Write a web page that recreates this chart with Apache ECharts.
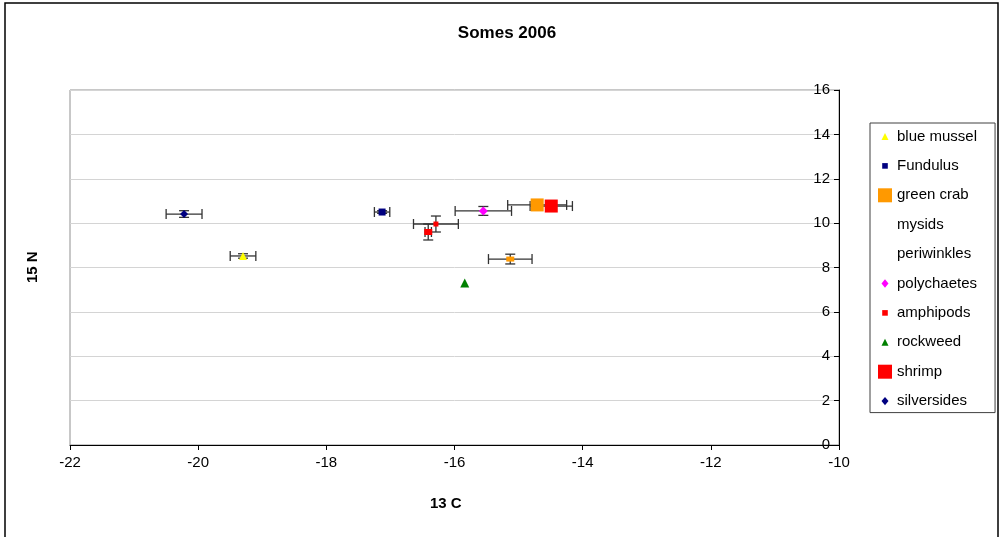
<!DOCTYPE html>
<html><head><meta charset="utf-8">
<script src="https://cdn.jsdelivr.net/npm/echarts@6/dist/echarts.min.js"></script>
<style>html,body{margin:0;padding:0;background:#fff}#c{width:1000px;height:537px}</style>
</head><body><div id="c"></div>
<script>
const names = ['blue mussel','Fundulus','green crab','mysids','periwinkles','polychaetes','amphipods','rockweed','shrimp','silversides'];
const xVals = [-19.30, -17.13, -14.71, -15.13, -16.41, -15.55, -16.29, -15.84, -14.49, -20.22];
const yVals = [8.52, 10.50, 10.82, 8.38, 9.60, 10.55, 9.96, 7.30, 10.77, 10.41];
const xErr  = [0.20, 0.12, 0.46, 0.34, 0.05, 0.44, 0.35, 0, 0.33, 0.28];
const yErr  = [0.10, 0.06, 0.10, 0.22, 0.36, 0.20, 0.36, 0, 0.10, 0.15];
const xTicks = [-22,-20,-18,-16,-14,-12,-10];
const yTicks = [0,2,4,6,8,10,12,14,16];

const colors = ['#FFFF00','#000080','#FF9900','#FF9900','#FF0000','#FF00FF','#FF0000','#008000','#FF0000','#000080'];
const symbols = ['triangle','rect','rect','rect','rect','diamond','rect','triangle','rect','diamond'];
const sizes = [8,7,13,[8,5],[8,6],9,5,9,13,8];
const legendHidden = {'mysids':true,'periwinkles':true};
const FONT = '"Liberation Sans", Arial, sans-serif';
// small legend icons: shape inside a 20x20 invisible frame
const FRAME = 'M0,0L0,0M20,20L20,20';
const smallIcons = {
  triangle:'path://'+FRAME+'M10,5L15,15L5,15Z',
  rect:'path://'+FRAME+'M6,6L14,6L14,14L6,14Z',
  diamond:'path://'+FRAME+'M10,4L15,10L10,16L5,10Z'
};
const bigLegend = {'green crab':true,'shrimp':true,'rockweed':true};

const chart = echarts.init(document.getElementById('c'));
const series = names.map((n,i)=>({
  name:n, type:'scatter', data:[[xVals[i], yVals[i]]],
  symbol:symbols[i], symbolSize:sizes[i],
  itemStyle:{color:colors[i], opacity:1}, z:5, silent:true
}));
series.push({
  type:'custom', name:'errors', z:3, silent:true,
  data: names.map((n,i)=>[xVals[i], yVals[i], xErr[i], yErr[i]]),
  renderItem:function(params, api){
    const x=api.value(0), y=api.value(1), ex=api.value(2), ey=api.value(3);
    const ch=[]; const st={stroke:'#333', lineWidth:1.3};
    if(ex>0){
      const a=api.coord([x-ex,y]), b=api.coord([x+ex,y]);
      ch.push({type:'line',shape:{x1:a[0],y1:a[1],x2:b[0],y2:b[1]},style:st});
      ch.push({type:'line',shape:{x1:a[0],y1:a[1]-5,x2:a[0],y2:a[1]+5},style:st});
      ch.push({type:'line',shape:{x1:b[0],y1:b[1]-5,x2:b[0],y2:b[1]+5},style:st});
    }
    if(ey>0){
      const a=api.coord([x,y-ey]), b=api.coord([x,y+ey]);
      ch.push({type:'line',shape:{x1:a[0],y1:a[1],x2:b[0],y2:b[1]},style:st});
      ch.push({type:'line',shape:{x1:a[0]-5,y1:a[1],x2:a[0]+5,y2:a[1]},style:st});
      ch.push({type:'line',shape:{x1:b[0]-5,y1:b[1],x2:b[0]+5,y2:b[1]},style:st});
    }
    return {type:'group',children:ch};
  }
});

chart.setOption({
  animation:false,
  textStyle:{fontFamily:FONT},
  title:{text:'Somes 2006', left:502, top:20, textAlign:'center',
    textStyle:{fontSize:17, fontWeight:'bold', color:'#000', fontFamily:FONT}},
  graphic:[
    {type:'rect', shape:{x:5,y:3,width:993,height:545}, style:{fill:'none',stroke:'#000',lineWidth:1.5}, z:-1},
    {type:'text', left:430, top:496, style:{text:'13 C', font:'bold 15px '+FONT, fill:'#000'}},
    {type:'text', x:25, y:283, rotation:Math.PI/2, style:{text:'15 N', font:'bold 15px '+FONT, fill:'#000'}}
  ],
  grid:{left:70, right:161, top:90, bottom:92, show:true, borderColor:'#909090', borderWidth:1},
  legend:{
    orient:'vertical', left:870, top:123,
    padding:[6,18,4,8], itemGap:14.4, itemWidth:14, itemHeight:14,
    borderColor:'#404040', borderWidth:1,
    textStyle:{fontSize:15, color:'#000', fontFamily:FONT},
    data: names.map((n,i)=>({name:n,
      icon: bigLegend[n] ? (n==='rockweed' ? smallIcons.triangle : 'rect') : smallIcons[symbols[i]],
      itemStyle: legendHidden[n] ? {color:'rgba(0,0,0,0)', opacity:0} : {color:colors[i], borderWidth:0}}))
  },
  xAxis:{type:'value', min:xTicks[0], max:xTicks[xTicks.length-1], interval:2,
    axisLine:{show:true, lineStyle:{color:'#000'}}, axisTick:{show:true, length:5, lineStyle:{color:'#000'}},
    axisLabel:{fontSize:15, color:'#000', margin:10}, splitLine:{show:false}},
  yAxis:{type:'value', position:'right', min:yTicks[0], max:yTicks[yTicks.length-1], interval:2,
    axisLine:{show:true, onZero:false, lineStyle:{color:'#000'}},
    axisTick:{show:true, inside:true, length:5, lineStyle:{color:'#000'}},
    axisLabel:{inside:true, fontSize:15, color:'#000', margin:9},
    splitLine:{show:true, lineStyle:{color:'#d4d4d4', width:1}}},
  series:series
});
</script></body></html>
